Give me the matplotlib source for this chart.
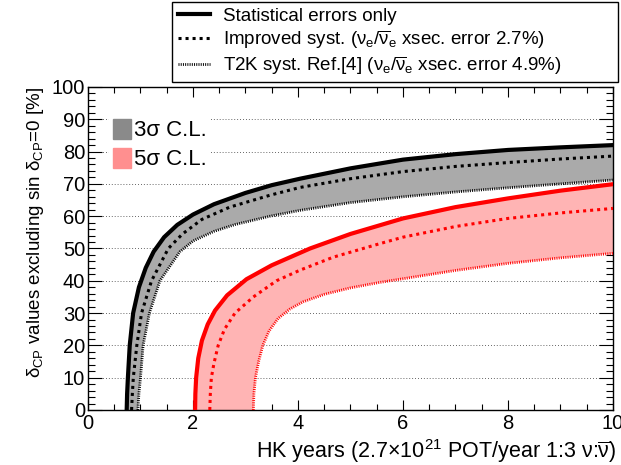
import matplotlib.pyplot as plt
import numpy as np
from matplotlib.lines import Line2D
from matplotlib.patches import Patch

plt.rcParams["font.family"] = ["Liberation Sans", "DejaVu Sans"]
plt.rcParams["mathtext.fontset"] = "custom"
plt.rcParams["mathtext.rm"] = "Liberation Sans"
plt.rcParams["mathtext.it"] = "Liberation Sans"
plt.rcParams["mathtext.bf"] = "Liberation Sans:bold"

# 3 sigma curves (x = HK years, y = % of delta_CP values)
stat3_x = [0.737, 0.745, 0.76, 0.795, 0.86, 0.97, 1.1, 1.25, 1.45, 1.7, 2.0, 2.4, 3.0, 3.5, 4.04, 5.0, 6.0, 7.0, 8.0, 9.0, 10.0]
stat3_y = [0, 5, 10, 20, 30, 38, 44, 49, 53.5, 57.3, 60.5, 63.7, 67.2, 69.6, 71.6, 74.8, 77.5, 79.2, 80.5, 81.3, 82.0]
imp3_x = [0.83, 0.845, 0.863, 0.93, 1.02, 1.21, 1.53, 1.8, 2.17, 2.7, 3.47, 4.04, 5.0, 6.0, 7.0, 8.0, 9.0, 10.0]
imp3_y = [0, 5, 10, 20, 30, 40, 50, 54.5, 59.0, 62.8, 66.5, 68.9, 71.6, 73.8, 75.4, 76.6, 77.7, 78.6]
t2k3_x = [0.95, 0.97, 1.0, 1.05, 1.17, 1.37, 1.75, 2.0, 2.4, 2.8, 3.47, 4.04, 5.0, 6.0, 7.0, 8.0, 9.0, 10.0]
t2k3_y = [0, 5, 10, 20, 30, 40, 49, 52.3, 55.3, 57.4, 60.0, 61.8, 64.2, 66.0, 67.5, 68.8, 70.0, 71.2]

# 5 sigma curves
stat5_x = [2.04, 2.045, 2.06, 2.1, 2.17, 2.28, 2.42, 2.65, 3.02, 3.5, 4.23, 5.0, 6.0, 7.0, 8.0, 9.0, 10.0]
stat5_y = [0, 5, 10, 16, 21.5, 26.5, 30.8, 35.5, 40.5, 44.8, 50, 54.5, 59.3, 62.8, 65.5, 67.9, 69.9]
imp5_x = [2.32, 2.33, 2.35, 2.4, 2.48, 2.6, 2.8, 3.15, 3.59, 4.04, 4.67, 5.56, 6.0, 7.0, 8.0, 9.0, 10.0]
imp5_y = [0, 5, 10, 14.5, 20, 25, 30, 35, 40, 43.3, 47.3, 51.5, 53.5, 56.8, 59.3, 61.0, 62.4]
t2k5_x = [3.15, 3.16, 3.19, 3.25, 3.33, 3.45, 3.62, 3.85, 4.1, 4.5, 5.0, 5.56, 6.26, 7.0, 8.0, 9.0, 10.0]
t2k5_y = [0, 5, 10, 15, 20, 24.5, 28.3, 31.3, 33.5, 35.8, 37.8, 39.5, 41.3, 43.2, 45.4, 47.1, 48.5]

legend_labels = [
    "Statistical errors only",
    r"Improved syst. ($\nu_{e}/\overline{\nu}_{e}$ xsec. error 2.7%)",
    r"T2K syst. Ref.[4] ($\nu_{e}/\overline{\nu}_{e}$ xsec. error 4.9%)",
]

fig = plt.figure(figsize=(6.21, 4.65), dpi=100)
ax = fig.add_axes([0.1417, 0.1183, 0.8454, 0.6947])

ax.fill(np.concatenate([stat3_x, t2k3_x[::-1]]), np.concatenate([stat3_y, t2k3_y[::-1]]),
        color="#aaaaaa", lw=0, zorder=2)
ax.fill(np.concatenate([stat5_x, t2k5_x[::-1]]), np.concatenate([stat5_y, t2k5_y[::-1]]),
        color="#ffb4b4", lw=0, zorder=2)

solid = dict(ls="-", lw=3.0)
dots = dict(ls=(0, (1, 1.3)), lw=2.2)
fine = dict(ls=(0, (0.35, 0.45)), lw=2.0)

ax.plot(stat3_x, stat3_y, color="black", zorder=3, **solid)
ax.plot(imp3_x, imp3_y, color="black", zorder=3, **dots)
ax.plot(t2k3_x, t2k3_y, color="black", zorder=3, **fine)
ax.plot(stat5_x, stat5_y, color="red", zorder=3, **solid)
ax.plot(imp5_x, imp5_y, color="red", zorder=3, **dots)
ax.plot(t2k5_x, t2k5_y, color="red", zorder=3, **fine)

ax.set_xlim(0, 10)
ax.set_ylim(0, 100)
ax.set_xticks(np.arange(0, 11, 2))
ax.set_xticks(np.arange(0, 10.01, 0.5), minor=True)
ax.set_yticks(np.arange(0, 101, 10))
ax.set_yticks(np.arange(0, 101, 2), minor=True)
ax.tick_params(which="both", direction="in", top=True, right=True, labelsize=14.5, width=0.8)
ax.tick_params(axis="x", which="major", length=7, pad=3)
ax.tick_params(axis="x", which="minor", length=4)
ax.tick_params(axis="y", which="major", length=10, pad=2)
ax.tick_params(axis="y", which="minor", length=5)
ax.grid(axis="y", which="major", color="#333333", lw=0.6, ls=(0, (1, 2.5)), zorder=1)
for s in ax.spines.values():
    s.set_linewidth(1.0)

ax.set_xlabel(r"HK years (2.7$\times$10$^{21}$ POT/year 1:3 $\nu$:$\overline{\nu}$)",
              fontsize=15.5, loc="right", labelpad=3)
ax.xaxis.label.set_x(1.006)
ax.set_ylabel(r"$\delta_{\rm CP}$ values excluding sin $\delta_{\rm CP}$=0 [%]",
              fontsize=13.5, loc="top", labelpad=4)

ax.legend(handles=[Patch(color="#8a8a8a"), Patch(color="#ff8f8f")],
          labels=["3σ C.L.", "5σ C.L."], loc="upper left", bbox_to_anchor=(0.018, 0.95),
          fontsize=16, frameon=True, facecolor="white", edgecolor="none", framealpha=1,
          handlelength=0.8, handleheight=1.0, handletextpad=0.15, labelspacing=0.3,
          borderpad=0.2, fancybox=False)

handles = [Line2D([], [], color="black", **solid),
           Line2D([], [], color="black", **dots),
           Line2D([], [], color="black", **fine)]
fig.legend(handles=handles, labels=legend_labels, loc="upper left",
           bbox_to_anchor=(172 / 621, 1 - 80 / 465, 446 / 621, 78 / 465), mode="expand",
           borderaxespad=0, fontsize=13.5, frameon=True, edgecolor="black", fancybox=False,
           handlelength=1.7, handletextpad=0.7, labelspacing=0.18, borderpad=0.3,
           framealpha=1)

fig.savefig("out.png", dpi=100)
